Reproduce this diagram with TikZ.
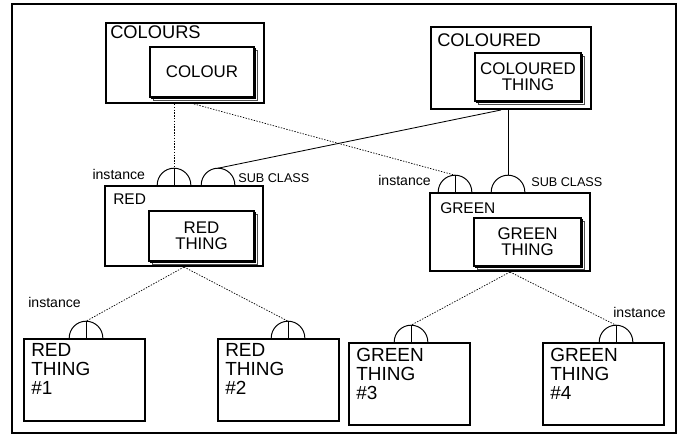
\documentclass[tikz,border=0pt]{standalone}
\usepackage{fontspec}
\setmainfont{Liberation Sans}
\usetikzlibrary{shadows, calc}

\begin{document}
\begin{tikzpicture}[
    x=0.025cm, y=-0.025cm,
    every node/.style={font=\fontsize{12}{11.5}\selectfont},
    cl-frame/.style={draw, line width=0.9pt},
    cl-outer/.style={rectangle, draw, line width=1.4pt, anchor=north west, inner sep=0pt},
    cl-inner/.style={rectangle, draw, line width=1.4pt, fill=white,
        anchor=north west, align=center, inner sep=0pt,
        copy shadow={shadow xshift=2.4pt, shadow yshift=-2.4pt, draw=black!70, fill=white, line width=0.4pt},
        copy shadow={shadow xshift=1.3pt, shadow yshift=-1.3pt, draw=black, fill=white, line width=0.5pt}},
    cl-leaf/.style={rectangle, draw, line width=1.4pt, anchor=north west, inner sep=0pt,
        minimum width=3.025cm, minimum height=2.05cm},
    cl-title/.style={anchor=base west, inner sep=0pt, font=\fontsize{13}{13}\selectfont},
    cl-leaftext/.style={anchor=north west, align=left, inner sep=0pt,
        font=\fontsize{13.5}{13.5}\selectfont},
    cl-tag/.style={inner sep=0pt, font=\fontsize{10}{10}\selectfont},
    cl-knob/.style={line width=0.7pt},
    cl-inst/.style={dash pattern=on 1pt off 1pt, line width=0.5pt},
    cl-sub/.style={line width=0.6pt},
]
    \useasboundingbox (0,0) rectangle (682,443);
    \draw[cl-frame] (12,4) rectangle (676,433);

    % ---- NODES: top classes ----
    \node[cl-outer, minimum width=3.95cm, minimum height=2cm] (colours) at (105,22) {};
    \node[cl-title] (colours-lbl) at ([xshift=0.125cm, yshift=-0.4cm]colours.north west) {COLOURS};
    \node[cl-inner, minimum width=2.6cm, minimum height=1.25cm] (colour) at (149,46) {COLOUR};

    \node[cl-outer, minimum width=4cm, minimum height=2.05cm] (coloured) at (430,26) {};
    \node[cl-title] (coloured-lbl) at ([xshift=0.175cm, yshift=-0.52cm]coloured.north west) {COLOURED};
    \node[cl-inner, minimum width=2.65cm, minimum height=1.2cm] (coloured-thing) at (474,52) {COLOURED\\THING};

    % ---- NODES: sub classes ----
    \node[cl-outer, minimum width=3.95cm, minimum height=2cm] (red) at (104,185) {};
    \node[cl-title, font=\fontsize{11}{11}\selectfont] (red-lbl) at ([xshift=0.225cm, yshift=-0.475cm]red.north west) {RED};
    \node[cl-inner, minimum width=2.625cm, minimum height=1.25cm] (red-thing) at (148,210) {RED\\THING};

    \node[cl-outer, minimum width=4cm, minimum height=1.95cm] (green) at (429,192) {};
    \node[cl-title, font=\fontsize{11}{11}\selectfont] (green-lbl) at ([xshift=0.275cm, yshift=-0.525cm]green.north west) {GREEN};
    \node[cl-inner, minimum width=2.675cm, minimum height=1.2cm] (green-thing) at (473,217) {GREEN\\THING};

    % ---- NODES: instances ----
    \node[cl-leaf] (t1) at (23,338) {};
    \node[cl-leaftext] (t1-txt) at ([xshift=0.2cm, yshift=-0.14cm]t1.north west) {RED\\THING\\\#1};
    \node[cl-leaf] (t2) at (217,338) {};
    \node[cl-leaftext] (t2-txt) at ([xshift=0.2cm, yshift=-0.14cm]t2.north west) {RED\\THING\\\#2};
    \node[cl-leaf] (t3) at (348,342) {};
    \node[cl-leaftext] (t3-txt) at ([xshift=0.2cm, yshift=-0.14cm]t3.north west) {GREEN\\THING\\\#3};
    \node[cl-leaf] (t4) at (542,342) {};
    \node[cl-leaftext] (t4-txt) at ([xshift=0.2cm, yshift=-0.14cm]t4.north west) {GREEN\\THING\\\#4};

    % ---- KNOBS ----
    \coordinate (red-inst)   at ([xshift=1.75cm]red.north west);
    \coordinate (red-sub)    at ([xshift=2.85cm]red.north west);
    \coordinate (green-inst) at ([xshift=0.65cm]green.north west);
    \coordinate (green-sub)  at ([xshift=1.975cm]green.north west);
    \coordinate (t1-inst)    at ([xshift=1.575cm]t1.north west);
    \coordinate (t2-inst)    at ([xshift=1.775cm]t2.north west);
    \coordinate (t3-inst)    at ([xshift=1.575cm]t3.north west);
    \coordinate (t4-inst)    at ([xshift=1.85cm]t4.north west);

    \foreach \k in {red-inst, red-sub, green-inst, green-sub, t1-inst, t2-inst, t3-inst, t4-inst} {
        \draw[cl-knob] ([xshift=-0.42cm]\k) arc[start angle=180, end angle=0, radius=0.42cm];
        \coordinate (\k-top) at ([yshift=0.42cm]\k);
    }
    \foreach \k in {red-inst, green-inst, t1-inst, t2-inst, t3-inst, t4-inst}
        \draw[cl-knob] (\k) -- (\k-top);

    % ---- TAGS ----
    \node[cl-tag, anchor=base east] (red-inst-tag) at ([xshift=-0.72cm, yshift=0.15cm]red-inst) {instance};
    \node[cl-tag, anchor=base west, font=\fontsize{9}{9}\selectfont] (red-sub-tag) at ([xshift=0.5cm, yshift=0.075cm]red-sub) {SUB CLASS};
    \node[cl-tag, anchor=base east] (green-inst-tag) at ([xshift=-0.6cm, yshift=0.175cm]green-inst) {instance};
    \node[cl-tag, anchor=base west, font=\fontsize{9}{9}\selectfont] (green-sub-tag) at ([xshift=0.575cm, yshift=0.15cm]green-sub) {SUB CLASS};
    \node[cl-tag, anchor=base east] (t1-tag) at ([xshift=-0.125cm, yshift=0.775cm]t1-inst) {instance};
    \node[cl-tag, anchor=base west] (t4-tag) at ([xshift=-0.075cm, yshift=0.625cm]t4-inst) {instance};

    % ---- CONNECTORS ----
    \draw[cl-inst] (colours.south -| red-inst) -- (red-inst-top);
    \draw[cl-inst] ([xshift=0.225cm]colours.south) -- (green-inst-top);
    \draw[cl-sub] ([xshift=-0.25cm]coloured.south) -- (red-sub-top);
    \draw[cl-sub] (coloured.south -| green-sub) -- (green-sub-top);

    \draw[cl-inst] (red.south) -- (t1-inst-top);
    \draw[cl-inst] (red.south) -- (t2-inst-top);
    \draw[cl-inst] (green.south) -- (t3-inst-top);
    \draw[cl-inst] (green.south) -- (t4-inst-top);
\end{tikzpicture}
\end{document}
